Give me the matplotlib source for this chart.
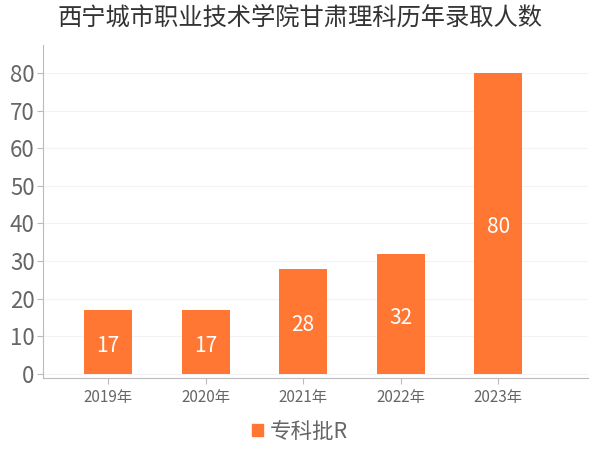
import matplotlib
matplotlib.use("Agg")
import matplotlib.pyplot as plt
from matplotlib.patches import Patch

plt.rcParams['font.family'] = ['Noto Sans CJK SC', 'DejaVu Sans']

title = "西宁城市职业技术学院甘肃理科历年录取人数"
categories = ["2019年", "2020年", "2021年", "2022年", "2023年"]
values = [17, 17, 28, 32, 80]
series_name = "专科批R"
yticks = [0, 10, 20, 30, 40, 50, 60, 70, 80]

bar_color = "#FF7733"
text_gray = "#666666"

fig = plt.figure(figsize=(6, 4.5), dpi=100)
ax = fig.add_axes([43/600, (450-378)/450, (588-43)/600, (378-45)/450])

x = list(range(len(categories)))
bars = ax.bar(x, values, width=0.49, color=bar_color, zorder=3)
for xi, v in zip(x, values):
    ax.text(xi, v/2 - 1, str(v), ha='center', va='center', color='white', fontsize=15, zorder=4)

ax.set_xlim(-0.666, 4.918)
ax.set_ylim(-1.06, 87.4)
ax.set_xticks(x)
ax.set_xticklabels(categories, fontsize=11, color=text_gray)
ax.set_yticks(yticks)
ax.set_yticklabels([str(t) for t in yticks], fontsize=16, color=text_gray)
ax.grid(axis='y', color='#f3f3f3', linewidth=0.8, zorder=0)
for s in ['top', 'right']:
    ax.spines[s].set_visible(False)
for s in ['left', 'bottom']:
    ax.spines[s].set_color('#bbbbbb')
ax.tick_params(axis='y', length=4, color='#bbbbbb', pad=2)
ax.tick_params(axis='x', length=4, color='#bbbbbb', pad=4)

fig.text(0.5, 0.96, title, ha='center', va='center', fontsize=17.5, color='#333333')
leg = fig.legend(handles=[Patch(color=bar_color, label=series_name)], loc='center',
                 bbox_to_anchor=(0.5, 0.04), frameon=False, fontsize=15.5,
                 handlelength=0.5, handleheight=0.5, handletextpad=0.3)
for t in leg.get_texts():
    t.set_color(text_gray)

fig.savefig("out.png", dpi=100)
